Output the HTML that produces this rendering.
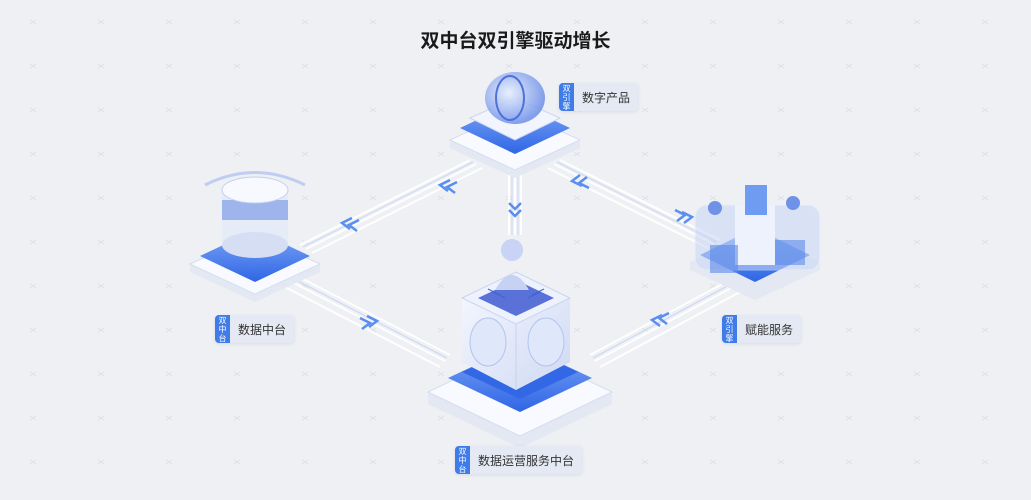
<!DOCTYPE html>
<html><head><meta charset="utf-8"><style>
html,body{margin:0;padding:0;width:1031px;height:500px;overflow:hidden;background:#eef0f4;font-family:"Liberation Sans","Noto Sans CJK SC",sans-serif}
.lab{position:absolute;display:flex;align-items:stretch;height:28px;border-radius:4px;overflow:hidden;background:#e4e9f3;box-shadow:0 1px 3px rgba(80,100,150,.15)}
.lab b{width:15px;background:#3f7ce8;color:#fff;font-size:8px;line-height:9px;font-weight:normal;text-align:center;display:flex;align-items:center;justify-content:center}
.lab span{font-size:12px;color:#333;padding:0 8px 0 8px;display:flex;align-items:center}
</style></head><body>
<svg width="1031" height="500" style="position:absolute;left:0;top:0">
<defs>
<pattern id="x" width="68" height="44" patternUnits="userSpaceOnUse"><path d="M30 20l6 4M36 20l-6 4" stroke="#dde0e7" stroke-width="1"/></pattern>
<linearGradient id="bl" x1="0" y1="0" x2="0" y2="1"><stop offset="0" stop-color="#7fa6f5"/><stop offset="1" stop-color="#2f66e6"/></linearGradient>
<linearGradient id="cb" x1="0" y1="0" x2="1" y2="1"><stop offset="0" stop-color="#f7f9ff"/><stop offset="1" stop-color="#cfd9f3"/></linearGradient>
<radialGradient id="sp" cx=".4" cy=".4" r=".6"><stop offset="0" stop-color="#e6eeff"/><stop offset="1" stop-color="#6f90e8"/></radialGradient>
</defs>
<rect width="1031" height="500" fill="url(#x)"/>
<g stroke="#fff" stroke-width="2" opacity=".95">
<path d="M470 160L300 245M476 164L306 249M482 168L312 253"/>
<path d="M560 160L720 240M554 164L714 244M548 168L708 248"/>
<path d="M295 275L450 355M290 281L445 361M285 287L440 367"/>
<path d="M730 280L590 355M735 286L595 361M740 292L600 367"/>
<path d="M509 165V235M515 165V235M521 165V235"/>
</g>
<g stroke="#c9d6f3" stroke-width="1">
<path d="M473 162L303 247M557 162L717 242M292 278L447 358M733 283L593 358M512 165V235M518 165V235"/>
</g>
<g fill="none" stroke="#5a8ef0" stroke-width="2.5">
<path d="M450 180l-10 5 8 6M457 182l-10 5 8 6"/>
<path d="M352 218l-10 5 8 6M359 220l-10 5 8 6"/>
<path d="M360 318l10 5-8 6M367 316l10 5-8 6"/>
<path d="M580 175l-8 6 10 5M587 177l-8 6 10 5"/>
<path d="M675 210l10 5-8 6M682 212l10 5-8 6" />
<path d="M662 315l-10 5 8 6M669 313l-10 5 8 6"/>
<path d="M509 203l6 6 6-6M509 210l6 6 6-6"/>
</g>
<polygon points="428,392 520,348 612,392 612,404 520,448 428,404" fill="#e3e8f3"/>
<polygon points="428,392 520,348 612,392 520,436" fill="#f8faff" stroke="#d5ddef"/>
<polygon points="448,378 520,344 592,378 520,412" fill="url(#bl)"/>
<polygon points="462,372 520,345 578,372 520,399" fill="#3268e6"/>
<polygon points="462,298 516,272 570,298 570,362 516,390 462,362" fill="url(#cb)"/>
<polygon points="462,298 516,272 570,298 516,324" fill="#eef2fd" stroke="#c9d4f0"/>
<polygon points="478,298 516,280 554,298 516,316" fill="#5a71d8"/>
<path d="M516 324V390" stroke="#c7d2ee"/>
<ellipse cx="488" cy="342" rx="18" ry="24" fill="#dfe7fa" stroke="#b3c4ee"/>
<ellipse cx="546" cy="342" rx="18" ry="24" fill="#dfe7fa" stroke="#b3c4ee"/>
<circle cx="512" cy="250" r="11" fill="#c8d3f5"/>
<path d="M495 290q17-30 34 0z" fill="#c6d1f4"/>
<path d="M500 295l-12-6M505 298l-12-6M528 298l12-6M532 295l12-6" stroke="#3d64d8"/>
<polygon points="450,140 515,110 580,140 580,148 515,178 450,148" fill="#e3e8f3"/>
<polygon points="450,140 515,110 580,140 515,170" fill="#f8faff" stroke="#d5ddef"/>
<polygon points="460,128 515,102 570,128 515,154" fill="url(#bl)"/>
<polygon points="470,118 515,98 560,118 515,140" fill="#f2f5fd" stroke="#ccd6f0"/>
<ellipse cx="515" cy="98" rx="30" ry="26" fill="url(#sp)" opacity=".85"/>
<ellipse cx="510" cy="98" rx="14" ry="22" fill="none" stroke="#4e72d8" stroke-width="2"/>
<polygon points="190,264 255,234 320,264 320,272 255,302 190,272" fill="#e3e8f3"/>
<polygon points="190,264 255,234 320,264 255,294" fill="#f8faff" stroke="#d5ddef"/>
<polygon points="200,256 255,230 310,256 255,282" fill="url(#bl)"/>
<rect x="222" y="190" width="66" height="55" fill="#e6ebf8"/>
<ellipse cx="255" cy="245" rx="33" ry="13" fill="#d6def4"/>
<rect x="222" y="200" width="66" height="20" fill="#7f9ce8" opacity=".7"/>
<ellipse cx="255" cy="190" rx="33" ry="13" fill="#f7f9ff" stroke="#c4d0ef"/>
<path d="M205 185q50-25 100 0" fill="none" stroke="#a9bdf0" stroke-width="3" opacity=".7"/>
<polygon points="690,262 755,232 820,262 820,270 755,300 690,270" fill="#e3e8f3"/>
<polygon points="700,255 755,228 810,255 755,282" fill="url(#bl)"/>
<rect x="695" y="205" width="125" height="65" rx="12" fill="#c9d7f5" opacity=".55" stroke="#e8eefc"/>
<rect x="735" y="205" width="40" height="60" fill="#eef2fc"/>
<rect x="745" y="185" width="22" height="30" fill="#4f86f0" opacity=".8"/>
<rect x="710" y="245" width="28" height="28" fill="#5b8bea" opacity=".6"/>
<rect x="775" y="240" width="30" height="25" fill="#5b8bea" opacity=".6"/>
<circle cx="715" cy="208" r="7" fill="#6f92e8"/><circle cx="793" cy="203" r="7" fill="#6f92e8"/>
</svg>
<div style="position:absolute;left:0;width:1031px;top:26px;text-align:center;font-size:19px;font-weight:bold;color:#1a1a1a">双中台双引擎驱动增长</div>
<div class="lab" style="left:559px;top:83px"><b>双<br>引<br>擎</b><span>数字产品</span></div>
<div class="lab" style="left:215px;top:315px"><b>双<br>中<br>台</b><span>数据中台</span></div>
<div class="lab" style="left:722px;top:315px"><b>双<br>引<br>擎</b><span>赋能服务</span></div>
<div class="lab" style="left:455px;top:446px"><b>双<br>中<br>台</b><span>数据运营服务中台</span></div>
</body></html>
